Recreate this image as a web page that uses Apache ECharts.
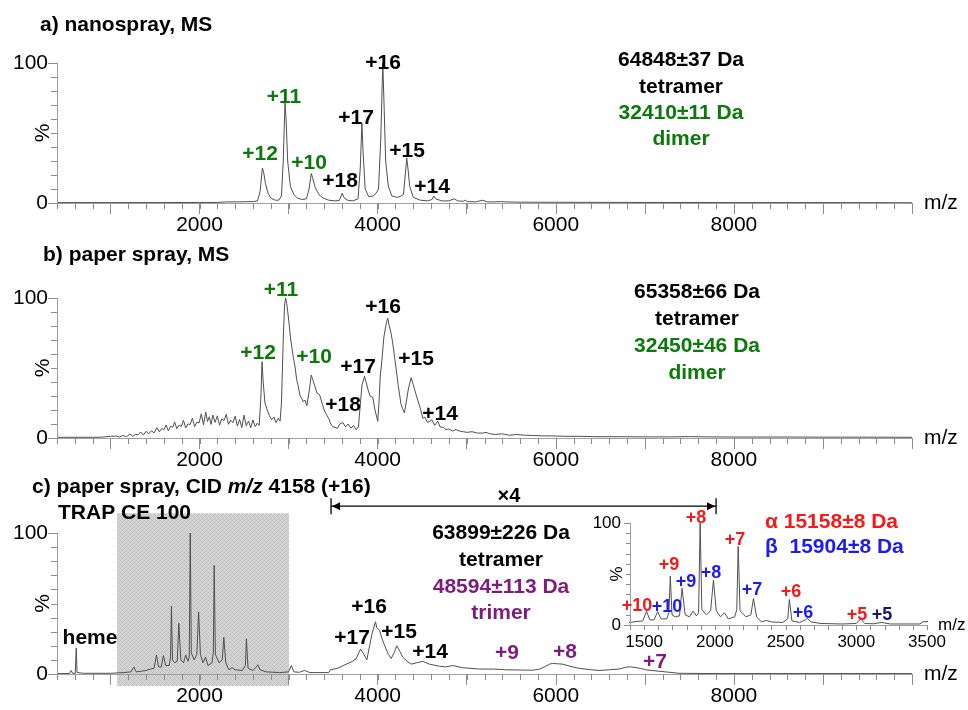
<!DOCTYPE html>
<html>
<head>
<meta charset="utf-8">
<script src="https://cdn.jsdelivr.net/npm/echarts@6/dist/echarts.min.js"></script>
<style>html,body{margin:0;padding:0;background:#fff}#c{width:968px;height:710px}</style>
</head>
<body>
<div id="c"></div>
<script>
// ---------- DATA ----------
// a) nanospray MS
const mzA = [400,1000,1500,2000,2200,2300,2400,2500,2600,2650,2680,2706,2720,2740,2770,2800,2850,2890,2920,2940,2960,2972,2990,3020,3060,3100,3150,3200,3230,3255,3270,3300,3340,3390,3450,3520,3570,3590,3603,3620,3660,3720,3780,3805,3823,3838,3860,3900,3950,3983,4010,4035,4058,4070,4090,4120,4160,4220,4264,4290,4310,4327,4340,4360,4400,4480,4560,4610,4630,4650,4720,4800,4860,4873,4900,4960,4985,5010,5100,5180,5198,5230,5300,5390,5410,5440,5600,6000,7000,8000,9000,10000];
const intA = [0.3,0.3,0.3,0.4,0.4,0.8,0.8,0.9,1,1.5,8,25,22,14,7,3.5,2,2,5,30,72,60,30,12,6,3.5,2.5,3,10,21,18,11,6,3.5,2,1.5,1.8,5,7,4,2,1.5,3,25,57,35,10,4.5,5,7,10,45,100,75,30,12,5,4,5,6,20,32,25,12,4,2,1.5,2.5,5,3,1.5,1.5,3,4,1.5,1.2,2,1,0.8,2,2.5,0.8,0.8,1,1.5,0.8,0.6,0.5,0.4,0.3,0.3,0.2];

// b) paper spray MS
const mzB = [400,800,900,1000,1020,1060,1100,1140,1180,1220,1250,1280,1310,1340,1370,1400,1430,1460,1490,1520,1550,1575,1600,1625,1650,1675,1700,1720,1745,1770,1795,1820,1845,1870,1895,1920,1945,1970,1995,2020,2045,2070,2090,2110,2130,2150,2175,2200,2225,2250,2275,2300,2325,2350,2375,2400,2425,2450,2475,2500,2525,2550,2575,2600,2625,2650,2670,2690,2702,2715,2735,2760,2785,2810,2835,2860,2885,2905,2920,2940,2955,2967,2980,3000,3025,3050,3075,3090,3105,3130,3150,3162,3185,3205,3217,3235,3255,3270,3290,3320,3348,3380,3400,3423,3450,3475,3498,3520,3550,3575,3610,3640,3670,3700,3730,3760,3785,3800,3825,3853,3870,3890,3915,3946,3970,4002,4015,4030,4040,4070,4100,4114,4130,4150,4167,4190,4207,4230,4263,4280,4300,4320,4345,4376,4400,4432,4460,4485,4507,4530,4560,4582,4610,4640,4675,4700,4740,4768,4800,4840,4880,4918,4960,5000,5060,5120,5180,5217,5260,5320,5400,5478,5560,5650,5750,5850,5950,6100,6250,6410,6600,6800,7000,7300,7500,7700,8000,8500,9000,9500,10000];
const intB = [0.5,0.5,0.6,1.2,0.4,1.4,0.7,1.8,0.9,2.8,1.2,2.6,2.2,4.3,2.1,4.8,2.9,5.2,3.6,7.4,4.4,6.9,5.8,9.3,5.1,8.4,7.6,11.5,6.7,9.2,8.3,12.6,7.2,10.1,9.6,14.2,8.1,11.4,10.7,17.3,9.4,18.6,11.8,15.2,9.7,16.4,11.1,15.8,9.2,13.6,12.4,16.9,9.8,12.7,10.9,15.6,8.6,13.2,7.4,16.3,8.8,12.1,7.3,12.9,8.2,10.6,9,30,54.5,40,25,20,16,13,15,11,14,12,25,70,95,100,96,85,70,59,50,42,38,30,28,26,27,23,22,35,45,42,38,32,31,24,20,17,14,10,8,9,7,10,11,8,10,7,9,6,8,20,38,44,40,35,30,29,20,12,25,45,50,72,83,85.5,80,75,69,58,50,38,24,21,18,25,35,43,38,31,25,20,14,15,11,11,13,9,12,8,7.5,6,6.5,5,6,5,4.5,4,4.5,3.5,3.5,4,3,2.5,3,2,2.5,2,1.8,1.5,1.5,1.2,1.2,1,0.9,0.9,0.8,0.8,1,0.8,0.7,0.7,0.6,0.6,0.5];

// c) paper spray CID m/z 4158 (+16); region from 3470 on shown x4
const mzC = [400,540,560,575,605,616,625,700,1000,1150,1230,1263,1290,1350,1400,1450,1490,1517,1540,1570,1595,1620,1660,1675,1685,1697,1720,1750,1768,1790,1820,1846,1870,1885,1896,1908,1940,1970,1990,2010,2040,2068,2095,2140,2155,2165,2178,2220,2255,2273,2295,2330,2365,2400,2480,2515,2527,2545,2600,2640,2655,2680,2750,2900,3000,3031,3060,3120,3180,3240,3450,3470,3550,3648,3720,3760,3808,3845,3879,3910,3939,3976,3990,4021,4050,4077,4120,4152,4185,4215,4250,4282,4330,4376,4440,4507,4580,4694,4760,4843,4950,5142,5300,5441,5600,5740,5820,5871,5930,5964,6076,6160,6263,6400,6487,6600,6711,6800,6850,6950,7011,7150,7235,7384,7800,10000];
const intC = [0.3,0.3,2.5,0.5,0.5,18.5,1,0.5,0.5,1,1.5,5,1.5,2,2.5,3.5,4,13.5,5,5,13,6,6,12,48,10,8,9,36,10,8,13.5,9,12,100,15,10,14,44,14,8,12,6,8,15,77,14,8,10,26,8,3,4.5,3,2.5,6,25,4,2.5,5,6.5,3,1.5,1,1.5,6,1.5,1.2,2.5,1,1,3,4,7,9,11,17.7,14,10,20,29,37,33,31,25,20.5,14,11,15,20,16,12,9,7,8,9,7,5.5,5,6,4.5,3.5,3.5,3,2.8,2.7,3.5,5,7,7.5,7,5.5,4,3,2.5,3,3.5,5,5,4,3,2,1.5,0.5,0.3,0.3];

// axes / annotation values
const xLabelsMain = [2000, 4000, 6000, 8000];
const xMajorTicks = [1000, 2000, 3000, 4000, 5000, 6000, 7000, 8000, 9000, 10000];
const yTicks = [0, 10, 20, 30, 40, 50, 60, 70, 80, 90, 100];
const yLabels = [0, 100];
const insetXLabels = [1500, 2000, 2500, 3000, 3500];
const grayBoxMz = [1074, 3005];
const grayBoxPct = [-8.5, 114];
const arrowMz = [3477, 7800];
const arrowPct = 119;

// minor tick positions (axis decoration)
const xMinorTicks = [];
for (let v = 400; v <= 10000; v += 200) xMinorTicks.push(v);
const insetXTicks = [];
for (let v = 1400; v <= 3500; v += 100) insetXTicks.push(v);

// ---------- CHART ----------
const FF = '"Liberation Sans", Arial, Helvetica, sans-serif';
const AX = '#a0a0a0';
const TK = '#8c8c8c';
const LINE = '#505050';
const GREEN = '#0b7a0b', PURPLE = '#7d1c7d', RED = '#f51a1a', BLUE = '#1c1cf0', NAVY = '#16167a';

const chart = echarts.init(document.getElementById('c'), null, {renderer: 'canvas'});
const zip = (a, b) => a.map((v, i) => [v, b[i]]);
const plain = v => String(v);

const gridBase = {containLabel: false, outerBoundsMode: 'none'};
const grids = [
  Object.assign({left: 57, top: 63, width: 855, height: 140}, gridBase),
  Object.assign({left: 57, top: 298, width: 855, height: 140}, gridBase),
  Object.assign({left: 57, top: 533, width: 855, height: 141}, gridBase),
  Object.assign({left: 630, top: 523, width: 297, height: 102}, gridBase)
];

function mainX(g) {
  return [
    {type: 'value', gridIndex: g, position: 'bottom', min: 400, max: 10000, interval: 200, z: 5,
     name: 'm/z', nameLocation: 'end', nameGap: 12, nameMoveOverlap: false,
     nameTextStyle: {fontFamily: FF, fontSize: 21, color: '#000'},
     axisLine: {show: true, lineStyle: {color: AX, width: 1}},
     axisTick: {show: false},
     axisLabel: {customValues: xLabelsMain, formatter: plain, margin: 12, fontFamily: FF, fontSize: 21, color: '#000'},
     splitLine: {show: false}},
    {type: 'value', gridIndex: g, position: 'bottom', min: 400, max: 10000, z: 5,
     axisLine: {show: false},
     axisTick: {show: true, customValues: xMajorTicks, length: 11, lineStyle: {color: TK}},
     axisLabel: {show: false}, splitLine: {show: false}}
  ];
}
function mainY(g) {
  return {type: 'value', gridIndex: g, position: 'left', min: 0, max: 100, interval: 10, z: 5,
    name: '%', nameLocation: 'middle', nameRotate: 90, nameGap: 3, nameMoveOverlap: false,
    nameTextStyle: {fontFamily: FF, fontSize: 21, color: '#000'},
    axisLine: {show: true, lineStyle: {color: AX}},
    axisTick: {show: false},
    axisLabel: {customValues: yLabels, formatter: plain, margin: 9, fontFamily: FF, fontSize: 21, color: '#000'},
    splitLine: {show: false}};
}

const xAxes = [...mainX(0), ...mainX(1), ...mainX(2),
  {type: 'value', gridIndex: 3, position: 'bottom', min: 1400, max: 3500, interval: 100, z: 5,
   name: 'm/z', nameLocation: 'end', nameGap: 11, nameMoveOverlap: false,
   nameTextStyle: {fontFamily: FF, fontSize: 17, color: '#000'},
   axisLine: {show: true, lineStyle: {color: AX}},
   axisTick: {show: false},
   axisLabel: {customValues: insetXLabels, formatter: plain, margin: 9, fontFamily: FF, fontSize: 17, color: '#000'},
   splitLine: {show: false}}];
const yAxes = [mainY(0), mainY(1), mainY(2),
  {type: 'value', gridIndex: 3, position: 'left', min: 0, max: 100, interval: 10, z: 5,
   name: '%', nameLocation: 'middle', nameRotate: 90, nameGap: 4, nameMoveOverlap: false,
   nameTextStyle: {fontFamily: FF, fontSize: 17, color: '#000'},
   axisLine: {show: true, lineStyle: {color: AX}},
   axisTick: {show: false},
   axisLabel: {customValues: yLabels, formatter: plain, margin: 9, fontFamily: FF, fontSize: 17, color: '#000'},
   splitLine: {show: false}}];

function spec(xi, yi, mz, it) {
  return {type: 'line', xAxisIndex: xi, yAxisIndex: yi, data: zip(mz, it),
    showSymbol: false, symbol: 'none', clip: true, z: 3, silent: true,
    lineStyle: {color: LINE, width: 1}};
}

chart.setOption({
  animation: false,
  backgroundColor: '#fff',
  grid: grids,
  xAxis: xAxes,
  yAxis: yAxes,
  series: [spec(0, 0, mzA, intA), spec(2, 1, mzB, intB), spec(4, 2, mzC, intC), spec(6, 3, mzC, intC)]
});

// ---------- ANNOTATIONS ----------
function T(text, x, y, color, size, align, extra) {
  return Object.assign({type: 'text', x: x, y: y, z: 100,
    style: {text: text, fill: color || '#000', font: 'bold ' + (size || 21) + 'px ' + FF,
      align: align || 'center', textAlign: align || 'center', verticalAlign: 'middle', textVerticalAlign: 'middle'}}, extra || {});
}

const g = [];

// axis ticks placed through the axes' own scales
const crisp = v => Math.round(v) + 0.5;
function tickLines(xi, yi, xTicks, xLen, xMin, yLenMinor, yLenMajor) {
  xTicks.forEach(function(v) {
    const p = chart.convertToPixel({xAxisIndex: xi, yAxisIndex: yi}, [v, 0]);
    const x = crisp(p[0]);
    g.push({type: 'line', z: 6, silent: true, shape: {x1: x, y1: Math.round(p[1]), x2: x, y2: Math.round(p[1]) + xLen},
      style: {stroke: TK, lineWidth: 1}});
  });
  yTicks.forEach(function(t) {
    const p = chart.convertToPixel({xAxisIndex: xi, yAxisIndex: yi}, [xMin, t]);
    const y = crisp(p[1]);
    const len = (t === 0 || t === 100) ? yLenMajor : yLenMinor;
    g.push({type: 'line', z: 6, silent: true, shape: {x1: Math.round(p[0]) - len, y1: y, x2: Math.round(p[0]), y2: y},
      style: {stroke: TK, lineWidth: 1}});
  });
}
tickLines(0, 0, xMinorTicks, 6, 400, 6, 9);
tickLines(2, 1, xMinorTicks, 6, 400, 6, 9);
tickLines(4, 2, xMinorTicks, 6, 400, 6, 9);
tickLines(6, 3, insetXTicks, 5, 1400, 4, 6);

// textured gray box
const pc = document.createElement('canvas');
pc.width = 4; pc.height = 4;
const pctx = pc.getContext('2d');
pctx.fillStyle = '#d4d4d4'; pctx.fillRect(0, 0, 4, 4);
pctx.fillStyle = '#bcbcbc';
[[0,0],[2,2]].forEach(function(p){ pctx.fillRect(p[0], p[1], 1, 1); });
pctx.fillStyle = '#c6c6c6';
[[1,1],[3,3],[1,3],[3,1]].forEach(function(p){ pctx.fillRect(p[0], p[1], 1, 1); });

const pC = (mz, pct) => chart.convertToPixel({xAxisIndex: 4, yAxisIndex: 2}, [mz, pct]);
const b1 = pC(grayBoxMz[0], grayBoxPct[1]);
const b2 = pC(grayBoxMz[1], grayBoxPct[0]);
const a1 = pC(arrowMz[0], arrowPct);
const a2 = pC(arrowMz[1], arrowPct);
const ay = a1[1];

g.push({type: 'rect', z: 1, shape: {x: b1[0], y: b1[1], width: b2[0] - b1[0], height: b2[1] - b1[1]},
  style: {fill: {image: pc, repeat: 'repeat'}}});
// arrow
g.push({type: 'line', z: 100, shape: {x1: a1[0], y1: ay, x2: a2[0], y2: ay}, style: {stroke: '#000', lineWidth: 1.3}});
g.push({type: 'line', z: 100, shape: {x1: a1[0], y1: ay - 8, x2: a1[0], y2: ay + 8}, style: {stroke: '#000', lineWidth: 1.3}});
g.push({type: 'line', z: 100, shape: {x1: a2[0], y1: ay - 8, x2: a2[0], y2: ay + 8}, style: {stroke: '#000', lineWidth: 1.3}});
g.push({type: 'polygon', z: 100, shape: {points: [[a1[0] + 1, ay], [a1[0] + 9, ay - 4], [a1[0] + 9, ay + 4]]}, style: {fill: '#000'}});
g.push({type: 'polygon', z: 100, shape: {points: [[a2[0] - 1, ay], [a2[0] - 9, ay - 4], [a2[0] - 9, ay + 4]]}, style: {fill: '#000'}});
g.push(T('\u00d74', 509, 496, '#000', 20));

// titles
g.push(T('a) nanospray, MS', 40, 25, '#000', 21, 'left'));
g.push(T('b) paper spray, MS', 43, 255, '#000', 21, 'left'));
g.push({type: 'text', x: 32, y: 487, z: 100, style: {
  text: '{b|c) paper spray, CID }{i|m/z}{b| 4158 (+16)}', align: 'left', textAlign: 'left', verticalAlign: 'middle', textVerticalAlign: 'middle',
  rich: {b: {font: 'bold 21px ' + FF, fill: '#000', color: '#000'}, i: {font: 'italic bold 21px ' + FF, fill: '#000', color: '#000'}}}});
g.push(T('TRAP CE 100', 58, 513, '#000', 21, 'left'));

// panel a labels
g.push(T('+11', 284, 97, GREEN)); g.push(T('+12', 260, 154, GREEN)); g.push(T('+10', 309, 163, GREEN));
g.push(T('+18', 340, 181)); g.push(T('+17', 356, 118)); g.push(T('+16', 383, 63));
g.push(T('+15', 407, 151)); g.push(T('+14', 432, 187));
g.push(T('64848\u00b137 Da', 681, 60)); g.push(T('tetramer', 681, 87));
g.push(T('32410\u00b111 Da', 681, 113, GREEN)); g.push(T('dimer', 681, 139, GREEN));

// panel b labels
g.push(T('+11', 281, 290, GREEN)); g.push(T('+12', 258, 353, GREEN)); g.push(T('+10', 314, 357, GREEN));
g.push(T('+18', 343, 405)); g.push(T('+17', 358, 367)); g.push(T('+16', 383, 307));
g.push(T('+15', 416, 359)); g.push(T('+14', 440, 414));
g.push(T('65358\u00b166 Da', 697, 292)); g.push(T('tetramer', 697, 319));
g.push(T('32450\u00b146 Da', 697, 346, GREEN)); g.push(T('dimer', 697, 373, GREEN));

// panel c labels
g.push(T('heme', 90, 638));
g.push(T('+16', 369, 607)); g.push(T('+17', 352, 638)); g.push(T('+15', 399, 632)); g.push(T('+14', 430, 652));
g.push(T('+9', 507, 653, PURPLE)); g.push(T('+8', 565, 652, PURPLE)); g.push(T('+7', 655, 662, PURPLE));
g.push(T('63899\u00b1226 Da', 501, 533)); g.push(T('tetramer', 501, 560));
g.push(T('48594\u00b1113 Da', 501, 587, PURPLE)); g.push(T('trimer', 501, 613, PURPLE));

// inset labels
g.push(T('+10', 637, 606, RED, 18)); g.push(T('+10', 667, 607, BLUE, 18));
g.push(T('+9', 669, 565, RED, 18)); g.push(T('+9', 686, 582, BLUE, 18));
g.push(T('+8', 696, 518, RED, 18)); g.push(T('+8', 711, 573, BLUE, 18));
g.push(T('+7', 735, 540, RED, 18)); g.push(T('+7', 752, 590, BLUE, 18));
g.push(T('+6', 791, 592, RED, 18)); g.push(T('+6', 803, 613, BLUE, 18));
g.push(T('+5', 857, 615, RED, 18)); g.push(T('+5', 882, 615, NAVY, 18));
g.push(T('\u03b1 15158\u00b18 Da', 765, 522, RED, 21, 'left'));
g.push(T('\u03b2  15904\u00b18 Da', 765, 547, BLUE, 21, 'left'));

chart.setOption({graphic: g});
</script>
</body>
</html>
